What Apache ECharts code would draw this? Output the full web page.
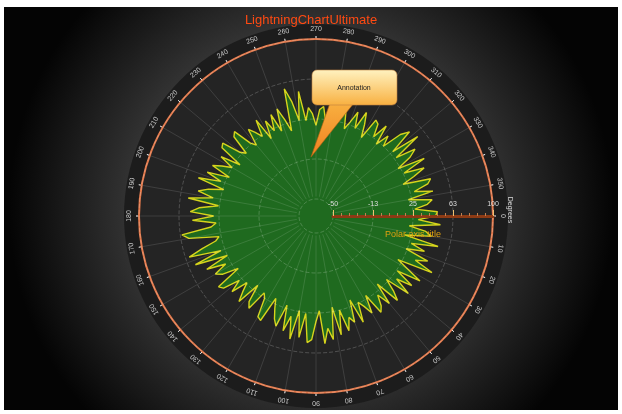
<!DOCTYPE html>
<html>
<head>
<meta charset="utf-8">
<script src="https://cdn.jsdelivr.net/npm/echarts@6.0.0/dist/echarts.min.js"></script>
<style>
  html, body { margin: 0; padding: 0; background: #ffffff; }
  #polarchart { position: absolute; left: 4px; top: 7px; width: 614px; height: 403px; }
</style>
</head>
<body>
<div id="polarchart"></div>
<script>
const myChart = echarts.init(document.getElementById('polarchart'));

// amplitude values, one every 2 degrees (0..358)
const amplitudes = [
  46, 30, 51, 22, 38, 44, 19, 52, 27, 41,
  24, 47, 36, 55, 21, 33, 49, 26, 45, 30,
  47, 23, 35, 44, 20, 41, 28, 38, 43, 22,
  39, 30, 24, 43, 19, 40, 34, 46, 25, 48,
  21, 51, 40, 54, 23, 33, 50, 53, 26, 49,
  24, 52, 31, 46, 22, 44, 38, 29, 20, 45,
  43, 25, 21, 41, 36, 19, 42, 33, 24, 40,
  28, 44, 47, 22, 37, 43, 30, 48, 25, 56,
  29, 59, 45, 31, 27, 55, 61, 33, 28, 50,
  30, 52, 44, 26, 55, 32, 47, 38, 24, 50,
  29, 44, 23, 42, 34, 25, 39, 20, 43, 45,
  27, 22, 41, 44, 26, 21, 37, 31, 24, 40,
  18, 35, 23, 38, 20, 41, 29, 17, 57, 44,
  25, 52, 24, 36, 30, 19, 34, 37, 22, 18,
  35, 23, 33, 36, 20, 28, 39, 24, 42, 31,
  19, 40, 38, 26, 41, 22, 35, 25, 44, 52,
  28, 55, 27, 46, 38, 23, 49, 26, 45, 33,
  21, 47, 43, 29, 46, 22, 44, 39, 27, 48
];
const angleStep = 2;
const angleLabels = [0, 10, 20, 30, 40, 50, 60, 70, 80, 90, 100, 110, 120, 130, 140, 150, 160, 170,
  180, 190, 200, 210, 220, 230, 240, 250, 260, 270, 280, 290, 300, 310, 320, 330, 340, 350];

const points = amplitudes.map((v, i) => [v, i * angleStep]);
points.push([amplitudes[0], 360]);

const cx = 312, cy = 209;

const option = {
  backgroundColor: {
    type: 'radial', x: 0.5, y: 0.5, r: 0.75,
    colorStops: [
      { offset: 0, color: '#5e5e5e' },
      { offset: 0.6, color: '#333333' },
      { offset: 1, color: '#040404' }
    ]
  },
  title: {
    text: 'LightningChartUltimate',
    left: 'center',
    top: 2,
    textStyle: { color: '#ff4a12', fontSize: 13, fontWeight: 'normal', fontFamily: 'Liberation Sans' }
  },
  polar: {
    center: [cx, cy],
    radius: [17, 177]
  },
  angleAxis: {
    type: 'value',
    min: 0,
    max: 360,
    interval: 10,
    startAngle: 0,
    clockwise: true,
    z: 3,
    axisLine: { lineStyle: { color: '#e2784a', width: 2 } },
    axisTick: { show: true, length: 3, lineStyle: { color: '#ffffff', width: 1 } },
    axisLabel: { show: false },
    splitLine: { show: true, lineStyle: { color: 'rgba(255,255,255,0.12)', width: 1 } }
  },
  radiusAxis: {
    type: 'value',
    min: -50,
    max: 100,
    interval: 37.5,
    z: 5,
    name: 'Polar axis title',
    nameLocation: 'middle',
    nameGap: 14,
    nameTextStyle: { color: '#e0a010', fontSize: 9 },
    axisLine: { show: true, lineStyle: { color: '#8c3a14', width: 3 } },
    axisTick: { show: true, length: 6, inside: true, lineStyle: { color: '#f0c070', width: 1 } },
    minorTick: { show: true, splitNumber: 5, length: 3, lineStyle: { color: '#c08050' } },
    axisLabel: {
      color: '#dddddd', fontSize: 7, margin: 8,
      formatter: v => String(v < 0 ? -Math.round(-v) : Math.round(v))
    },
    splitLine: { show: true, lineStyle: { color: 'rgba(255,255,255,0.2)', type: 'dashed', width: 1 } }
  },
  graphic: [
    {
      type: 'circle', z: -10, silent: true,
      shape: { cx: cx, cy: cy, r: 192 },
      style: { fill: '#1c1c1c' }
    },
    {
      type: 'circle', z: -9, silent: true,
      shape: { cx: cx, cy: cy, r: 177 },
      style: { fill: '#242424' }
    },
    {
      // fills the hole left by the inner radius
      type: 'circle', z: 4, silent: true,
      shape: { cx: cx, cy: cy, r: 19.5 },
      style: { fill: '#1f6a1f' }
    },
    {
      type: 'text', z: 10, silent: true,
      x: 506, y: 203, rotation: -Math.PI / 2,
      style: { text: 'Degrees', fill: '#dddddd', fontSize: 7, align: 'center', verticalAlign: 'middle' }
    },
    {
      type: 'polygon', z: 100, silent: true,
      shape: { points: [[326, 96], [350, 96], [307, 150]] },
      style: {
        fill: { type: 'linear', x: 0, y: 0, x2: 0, y2: 1,
          colorStops: [{ offset: 0, color: '#f8b040' }, { offset: 1, color: '#f08020' }] },
        stroke: '#b06010', lineWidth: 0.6
      }
    },
    {
      type: 'rect', z: 101, silent: true,
      shape: { x: 308, y: 63, width: 85, height: 35, r: 5 },
      style: {
        fill: { type: 'linear', x: 0, y: 0, x2: 0, y2: 1,
          colorStops: [{ offset: 0, color: '#fff2c0' }, { offset: 1, color: '#f8b040' }] },
        stroke: '#c08040', lineWidth: 0.6
      }
    },
    {
      type: 'text', z: 102, silent: true,
      x: 350, y: 81,
      style: { text: 'Annotation', fill: '#222222', fontSize: 7, align: 'center', verticalAlign: 'middle' }
    }
  ],
  series: [
    {
      type: 'line',
      coordinateSystem: 'polar',
      data: points,
      showSymbol: false,
      symbol: 'none',
      z: 2,
      lineStyle: { color: '#d6d41c', width: 1.4 },
      areaStyle: { color: '#1f6a1f', opacity: 1, origin: 'start' }
    },
    {
      // angle labels, rotated along the ring
      type: 'custom',
      coordinateSystem: 'polar',
      silent: true,
      z: 6,
      data: angleLabels.map(a => [100, a]),
      renderItem: function (params, api) {
        const ang = api.value(1);
        const p = api.coord([100, ang]);
        const dx = p[0] - cx, dy = p[1] - cy;
        const len = Math.sqrt(dx * dx + dy * dy);
        const k = (len + 10) / len;
        return {
          type: 'text',
          x: cx + dx * k,
          y: cy + dy * k,
          rotation: (270 - ang) * Math.PI / 180,
          style: { text: String(ang), fill: '#c8c8c8', fontSize: 7, align: 'center', verticalAlign: 'middle' }
        };
      }
    }
  ]
};

myChart.setOption(option);
</script>
</body>
</html>
